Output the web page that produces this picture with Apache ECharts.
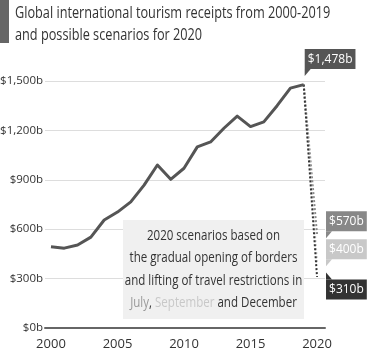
<!DOCTYPE html>
<html>
<head>
<meta charset="utf-8">
<script src="https://cdn.jsdelivr.net/npm/echarts@6/dist/echarts.min.js"></script>
<style>
  html, body { margin: 0; padding: 0; background: #fff; }
  #chart { width: 367px; height: 352px; }
</style>
</head>
<body>
<div id="chart"></div>
<script>
// receipts, US$ billions
const years = [2000, 2001, 2002, 2003, 2004, 2005, 2006, 2007, 2008, 2009,
               2010, 2011, 2012, 2013, 2014, 2015, 2016, 2017, 2018, 2019];
const receipts = [494, 485, 504, 552, 656, 704, 766, 868, 990, 903,
                  970, 1100, 1130, 1213, 1287, 1223, 1252, 1350, 1457, 1478];
const scenarioYear = 2020;
const scenarioNames = ['July', 'September', 'December'];
const scenarioValues = [570, 400, 310];
const yTicks = [0, 300, 600, 900, 1200, 1500];
const xTicks = [2000, 2005, 2010, 2015, 2020];

const GREYS = { July: '#888', September: '#c8c8c8', December: '#333' };
const FONT = '"Open Sans", sans-serif';
const money = v => '$' + v.toLocaleString('en-US') + 'b';

const last = receipts.length - 1;

// little callout tag: box + triangular tail at its left edge
function tag(color, coord, value, up) {
  return {
    silent: true,
    symbol: up ? 'path://M0,7L6,7L0,0Z' : 'path://M0,0L6,0L0,7Z',
    symbolSize: [6, 7],
    symbolKeepAspect: false,
    itemStyle: { color },
    label: {
      show: true, position: up ? [0, 7] : [0, -20],
      formatter: () => money(value),
      backgroundColor: color, color: '#fff',
      fontFamily: FONT, fontSize: 12, lineHeight: 14, padding: [3, 3]
    },
    data: [{ coord }]
  };
}

const scenarioSeries = scenarioNames.map((n, i) => {
  const m = tag(GREYS[n], [scenarioYear, scenarioValues[i]], scenarioValues[i], n === 'December');
  m.symbolOffset = n === 'December' ? [12, -1] : [12, 0.5];
  return {
    name: n, type: 'line', symbol: 'none', silent: true, z: 3 + i,
    data: [[years[last], receipts[last]], [scenarioYear, scenarioValues[i]]],
    lineStyle: { color: GREYS[n], width: 2, type: 'dotted' },
    markPoint: m
  };
});

const topTag = tag('#555', [years[last], receipts[last]], receipts[last], false);
topTag.symbolOffset = [4, -12];

const chart = echarts.init(document.getElementById('chart'), null, { renderer: 'canvas' });
chart.setOption({
  animation: false,
  backgroundColor: '#fff',
  grid: { left: 45, right: 42, top: 81, bottom: 24, outerBoundsMode: 'none', containLabel: false },
  xAxis: {
    type: 'value', min: 1999.55, max: 2020.6,
    axisLine: { show: true, lineStyle: { color: '#666', width: 2 } },
    axisTick: { show: false },
    splitLine: { show: false },
    axisLabel: {
      customValues: xTicks, color: '#333', fontFamily: FONT, fontSize: 13, margin: 10,
      formatter: v => String(v)
    }
  },
  yAxis: {
    type: 'value', min: 0, max: 1500, interval: 300,
    axisLine: { show: false }, axisTick: { show: false },
    splitLine: { lineStyle: { color: '#ddd', width: 1 } },
    axisLabel: {
      customValues: yTicks, color: '#333', fontFamily: FONT, fontSize: 11.5, margin: 2,
      formatter: v => money(v)
    }
  },
  series: [{
    name: 'receipts', type: 'line', symbol: 'none', silent: true, z: 6,
    data: years.map((y, i) => [y, receipts[i]]),
    lineStyle: { color: '#555', width: 3, join: 'round' },
    markPoint: topTag
  }].concat(scenarioSeries),
  graphic: [
    { type: 'rect', x: 0, y: 0, shape: { width: 9, height: 43 }, style: { fill: '#666' } },
    {
      type: 'text', x: 15, y: 3, scaleX: 0.82,
      style: {
        text: 'Global international tourism receipts from 2000-2019\nand possible scenarios for 2020',
        font: '15.5px "Open Sans"', fill: '#333', lineHeight: 22
      }
    },
    { type: 'rect', x: 123, y: 220, z: 5, shape: { width: 181, height: 99 }, style: { fill: '#f0f0f0' } },
    {
      type: 'text', x: 213.5, y: 224, z: 6, scaleX: 0.77,
      style: {
        text: '2020 scenarios based on\nthe gradual opening of borders\nand lifting of travel restrictions in\n{a|July}, {b|September} and December',
        font: '15px "Open Sans"', fill: '#333', align: 'center', lineHeight: 22.5,
        rich: {
          a: { fill: '#999', font: '15px "Open Sans"', lineHeight: 22.5 },
          b: { fill: '#c8c8c8', font: '15px "Open Sans"', lineHeight: 22.5 }
        }
      }
    }
  ]
});
</script>
</body>
</html>
